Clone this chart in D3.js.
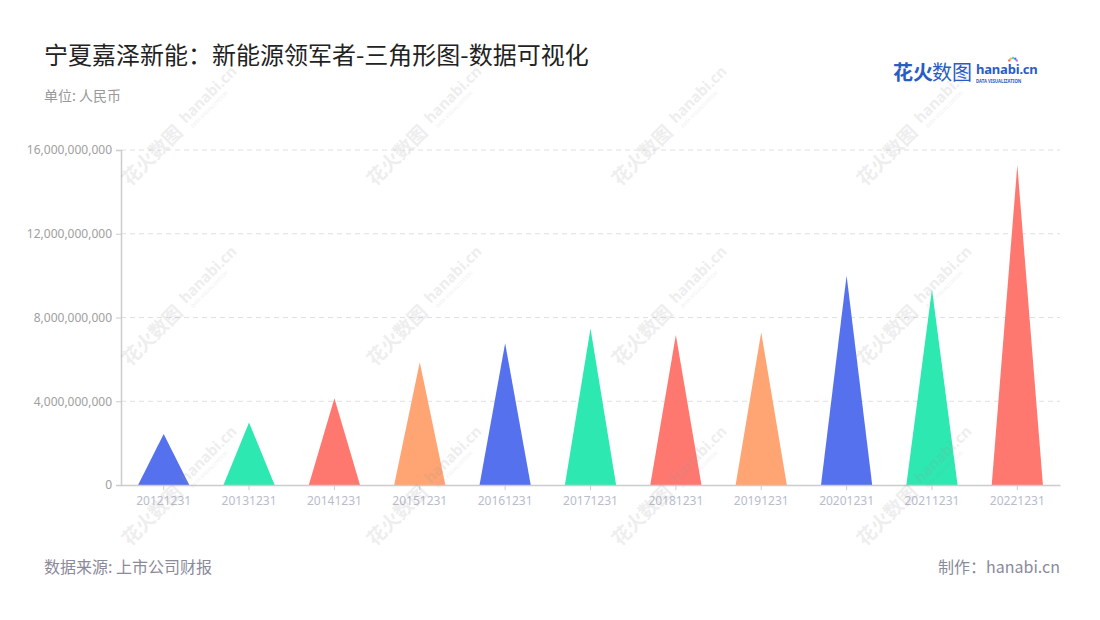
<!DOCTYPE html>
<html>
<head>
<meta charset="utf-8">
<script src="https://cdn.jsdelivr.net/npm/d3@7/dist/d3.min.js"></script>
<style>
  html, body { margin: 0; padding: 0; background: #fff; }
  svg { display: block; font-family: "Noto Sans CJK SC", "Noto Sans", sans-serif; }
</style>
</head>
<body>
<svg id="chart" width="1100" height="620"></svg>
<script>
const categories = ['20121231','20131231','20141231','20151231','20161231','20171231','20181231','20191231','20201231','20211231','20221231'];
const values = [2.44e9, 2.99e9, 4.14e9, 5.86e9, 6.77e9, 7.48e9, 7.16e9, 7.29e9, 10.01e9, 9.35e9, 15.28e9];
const yTicks = [0, 4e9, 8e9, 12e9, 16e9];
const palette = ['#5671EE', '#2DE8B1', '#FF7870', '#FFA473'];
const titleText = '宁夏嘉泽新能：新能源领军者-三角形图-数据可视化';
const unitText = '单位: 人民币';
const sourceText = '数据来源: 上市公司财报';
const makerText = '制作：hanabi.cn';

(function () {
const svg = d3.select('#chart');
const pLeft = 121, pRight = 1060, pTop = 150, pBottom = 485;

const x = d3.scaleBand().domain(categories).range([pLeft, pRight]).padding(0);
const y = d3.scaleLinear().domain([0, 16e9]).range([pBottom, pTop]);

// gridlines
svg.append('g').selectAll('line').data(yTicks.filter(d => d > 0)).join('line')
  .attr('x1', pLeft).attr('x2', pRight)
  .attr('y1', d => y(d)).attr('y2', d => y(d))
  .attr('stroke', '#e0e0e0').attr('stroke-width', 1).attr('stroke-dasharray', '5,4');

// triangles
const bw = x.bandwidth() * 0.6;
svg.append('g').selectAll('path').data(values).join('path')
  .attr('d', (d, i) => {
    const cx = x(categories[i]) + x.bandwidth() / 2;
    return `M${cx - bw / 2},${y(0)}L${cx},${y(d)}L${cx + bw / 2},${y(0)}Z`;
  })
  .attr('fill', (d, i) => palette[i % palette.length]);

// y axis
const yAxis = svg.append('g').attr('transform', `translate(${pLeft},0)`)
  .call(d3.axisLeft(y).tickValues(yTicks).tickFormat(d3.format(',')).tickSize(5).tickPadding(4));
yAxis.select('.domain').attr('stroke', '#cccccc').attr('stroke-width', 1.5);
yAxis.selectAll('.tick line').attr('stroke', '#cccccc');
yAxis.selectAll('.tick text').attr('fill', '#a0a0a0').style('font-size', '12px').style('font-family', '"Noto Sans", sans-serif');

// x axis
const xAxis = svg.append('g').attr('transform', `translate(0,${pBottom})`)
  .call(d3.axisBottom(x).tickSize(5).tickPadding(6).tickSizeOuter(0));
xAxis.select('.domain').attr('stroke', '#cccccc').attr('stroke-width', 1.5);
xAxis.selectAll('.tick line').attr('stroke', '#cccccc');
xAxis.selectAll('.tick text').attr('fill', '#b8bccb').style('font-size', '12px').style('font-family', '"Noto Sans", sans-serif');

// watermarks
const wm = svg.append('g').attr('pointer-events', 'none');
const wx = [130, 375, 620, 865], wy = [187, 367, 547];
wy.forEach(yy => wx.forEach(xx => {
  const g = wm.append('g').attr('transform', `translate(${xx},${yy}) rotate(-45)`)
    .attr('fill', '#999').attr('opacity', 0.16);
  g.append('text').attr('x', 0).attr('y', 0).style('font-size', '19px').style('font-weight', 'bold').text('花火数图');
  g.append('text').attr('x', 84).attr('y', -5).style('font-size', '15px').style('font-weight', 'bold')
    .style('font-family', '"Noto Sans", sans-serif').text('hanabi.cn');
  g.append('text').attr('x', 86).attr('y', 3).style('font-size', '5px')
    .style('font-family', '"Noto Sans", sans-serif').text('DATA VISUALIZATION');
}));

// title
svg.append('text').attr('x', 44).attr('y', 64).attr('fill', '#222')
  .style('font-size', '24px').text(titleText);
svg.append('text').attr('x', 44).attr('y', 101).attr('fill', '#999')
  .style('font-size', '14px').text(unitText);

// footer
svg.append('text').attr('x', 44).attr('y', 573).attr('fill', '#8a8a99')
  .style('font-size', '16px').text(sourceText);
svg.append('text').attr('x', 1060).attr('y', 573).attr('fill', '#8a8a99').attr('text-anchor', 'end')
  .style('font-size', '16px').text(makerText);

// logo
const logo = svg.append('g');
logo.append('text').attr('x', 893).attr('y', 80).attr('fill', '#2a5cc4')
  .style('font-size', '20px').style('font-weight', 'bold').text('花火');
logo.append('text').attr('x', 932).attr('y', 80).attr('fill', '#2a5cc4')
  .style('font-size', '20px').text('数图');
logo.append('text').attr('x', 976).attr('y', 74).attr('fill', '#2a5cc4')
  .style('font-size', '13px').style('font-weight', 'bold').style('font-family', '"Noto Sans", sans-serif')
  .style('letter-spacing', '-0.2px').text('hanabi.cn');
logo.append('text').attr('x', 976).attr('y', 83).attr('fill', '#2a5cc4')
  .style('font-size', '4.3px').style('font-weight', 'bold').style('font-family', '"Noto Sans", sans-serif')
  .text('DATA VISUALIZATION');
const spark = ['#ff6b6b', '#ffb347', '#2de8b1', '#5671ee', '#c86bfa'];
spark.forEach((c, i) => {
  const a = -Math.PI / 2 + (i - 2) * 0.6;
  logo.append('circle').attr('cx', 1013 + Math.cos(a) * 4).attr('cy', 62 + Math.sin(a) * 4)
    .attr('r', 1.2).attr('fill', c);
});
})();
</script>
</body>
</html>
